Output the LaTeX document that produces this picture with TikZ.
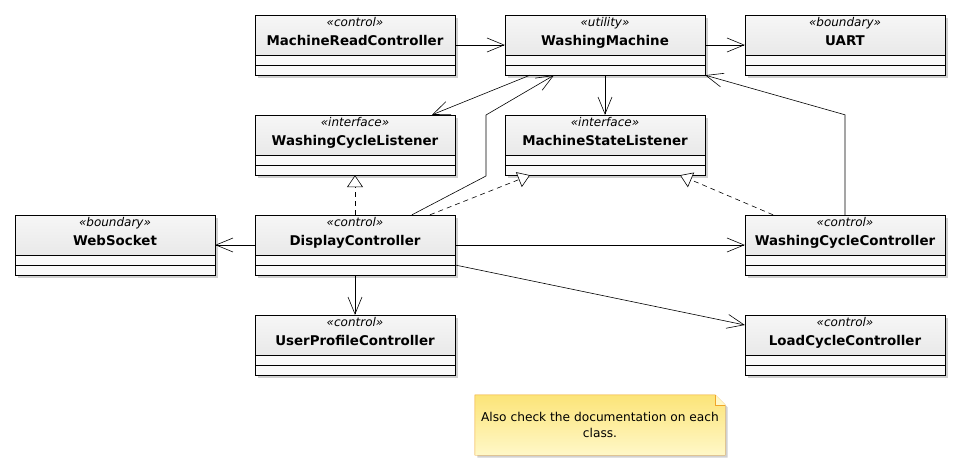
\documentclass[tikz,border=0pt]{standalone}
\usepackage{fontspec}
\setmainfont{DejaVu Sans}
\usepackage{tikz}
\usetikzlibrary{positioning, calc, arrows.meta, shadows, backgrounds}
\definecolor{NoteLine}{RGB}{240,165,40}
\definecolor{NoteTop}{RGB}{252,228,120}
\definecolor{NoteBot}{RGB}{255,248,200}
\definecolor{HeadTop}{RGB}{246,246,246}
\definecolor{HeadBot}{RGB}{226,226,226}
\newcommand{\stereofont}{\fontsize{12}{19}\selectfont\itshape}
\tikzset{
    classbox/.style={
        draw, fill=white, minimum width=200pt, minimum height=60pt, inner sep=0pt,
        align=center, text height=30pt, text depth=30pt,
        font=\fontsize{13.4}{19}\selectfont,
        drop shadow={shadow xshift=2.5pt, shadow yshift=-2.5pt, fill=black, opacity=0.18},
        path picture={
            \fill[top color=HeadTop, bottom color=HeadBot]
                (path picture bounding box.north west) rectangle ([yshift=20pt]path picture bounding box.south east);
            \fill[gray!4] ([yshift=20pt]path picture bounding box.south west) rectangle (path picture bounding box.south east);
            \draw ([yshift=20pt]path picture bounding box.south west) -- ([yshift=20pt]path picture bounding box.south east);
            \draw ([yshift=10pt]path picture bounding box.south west) -- ([yshift=10pt]path picture bounding box.south east);
        }
    },
    assoc/.style={
        -{Straight Barb[length=17pt, width=14pt]}, line width=0.6pt
    },
    realize/.style={
        -{Triangle[open, length=12pt, width=16pt, fill=white]}, dash pattern=on 5pt off 4pt, line width=0.6pt
    },
    notebox/.style={
        minimum width=250pt, minimum height=60pt, inner sep=0pt, align=center,
        font=\fontsize{12.2}{16}\selectfont
    }
}
\begin{document}
\begin{tikzpicture}[x=1pt, y=-1pt]
    \useasboundingbox (0,0) rectangle (961,471);

    % --- classes ---
    \node[classbox] (mrc)  at (355,45)  {{\stereofont «control»}\\\textbf{MachineReadController}};
    \node[classbox] (wm)   at (605,45)  {{\stereofont «utility»}\\\textbf{WashingMachine}};
    \node[classbox] (uart) at (845,45)  {{\stereofont «boundary»}\\\textbf{UART}};
    \node[classbox] (wcl)  at (355,145) {{\stereofont «interface»}\\\textbf{WashingCycleListener}};
    \node[classbox] (msl)  at (605,145) {{\stereofont «interface»}\\\textbf{MachineStateListener}};
    \node[classbox] (ws)   at (115,245) {{\stereofont «boundary»}\\\textbf{WebSocket}};
    \node[classbox] (dc)   at (355,245) {{\stereofont «control»}\\\textbf{DisplayController}};
    \node[classbox] (wcc)  at (845,245) {{\stereofont «control»}\\\textbf{WashingCycleController}};
    \node[classbox] (upc)  at (355,345) {{\stereofont «control»}\\\textbf{UserProfileController}};
    \node[classbox] (lcc)  at (845,345) {{\stereofont «control»}\\\textbf{LoadCycleController}};

    % --- associations ---
    \draw[assoc] (mrc.east) -- (wm.west);
    \draw[assoc] (wm.east) -- (uart.west);
    \draw[assoc] ([xshift=-75pt]wm.south) -- ([xshift=77pt]wcl.north);
    \draw[assoc] (wm.south) -- (msl.north);
    \draw[assoc] ([xshift=57pt]dc.north) -- (486,176) -- (486,115) -- ([xshift=-51pt]wm.south);
    \draw[assoc] (wcc.north) -- ++(0,-100) -- (wm.south east);
    \draw[assoc] (dc.west) -- (ws.east);
    \draw[assoc] (dc.east) -- (wcc.west);
    \draw[assoc] (dc.south) -- (upc.north);
    \draw[assoc] ([yshift=-20pt]dc.east) -- ([yshift=20pt]lcc.west);

    % --- realizations ---
    \draw[realize] (dc.north) -- (wcl.south);
    \draw[realize] ([xshift=75pt]dc.north) -- ([xshift=-75pt]msl.south);
    \draw[realize] ([xshift=-72pt]wcc.north) -- ([xshift=75pt]msl.south);

    % Note
    \node[notebox] (note) at (600,425) {Also check the documentation on each\\class.};
    \begin{scope}[on background layer]
        \draw[NoteLine, top color=NoteTop, bottom color=NoteBot,
              drop shadow={shadow xshift=2.5pt, shadow yshift=-2.5pt, fill=black, opacity=0.18}]
            (note.south west) -- (note.north west) -- ([xshift=-10pt]note.north east)
            -- ([yshift=-10pt]note.north east) -- (note.south east) -- cycle;
        \draw[NoteLine, fill=NoteBot] ([xshift=-10pt]note.north east) -- ++(0,10) -- ++(10,0);
    \end{scope}
\end{tikzpicture}
\end{document}
